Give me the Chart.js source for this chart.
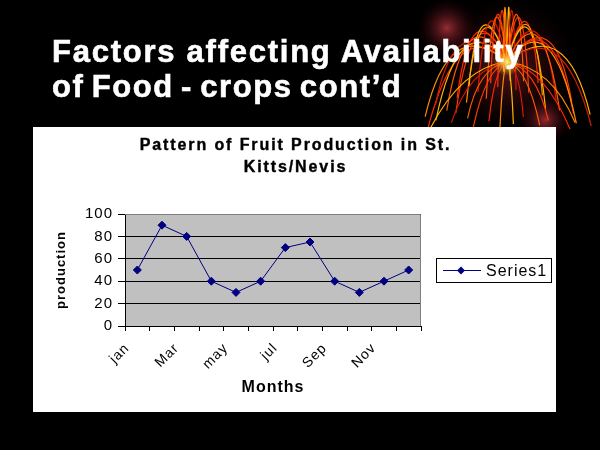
<!DOCTYPE html>
<html>
<head>
<meta charset="utf-8">
<script src="https://cdn.jsdelivr.net/npm/chart.js@4.4.1/dist/chart.umd.min.js"></script>
<style>
  html, body { margin: 0; padding: 0; background: #000; }
  #slide { position: relative; width: 600px; height: 450px; overflow: hidden; background: #000; }
  #deco { position: absolute; left: 0; top: 0; }
  .headline {
    position: absolute; left: 52px; color: #fff;
    font-family: "Liberation Sans", Arial, sans-serif; font-weight: bold;
    font-size: 31px; line-height: 35px; letter-spacing: 1.6px; white-space: nowrap;
    -webkit-text-stroke: 0.6px #fff;
  }
  #box { position: absolute; left: 33px; top: 127px; width: 523px; height: 285px; background: #fff; }
</style>
</head>
<body>
<div id="slide">
  <canvas id="deco" width="600" height="450"></canvas>
  <div class="headline" style="top:34px; letter-spacing:1.75px">Factors affecting Availability</div>
  <div class="headline" style="top:69px; word-spacing:-3px">of Food - crops cont’d</div>
  <div id="box"><canvas id="fruitChart" width="523" height="285"></canvas></div>
</div>
<script>
// values
const months = ["jan", "feb", "Mar", "apr", "may", "jun", "jul", "aug", "Sep", "Oct", "Nov", "Dec"];
const production = [50, 90, 80, 40, 30, 40, 70, 75, 40, 30, 40, 50];
const seriesName = "Series1";
const yTicks = [0, 20, 40, 60, 80, 100];
const chartTitle = ["Pattern of Fruit Production in St.", "Kitts/Nevis"];

const FONT = "'Liberation Sans', Arial, sans-serif";

// firework in the corner, just decoration
function drawFirework() {
  const ctx = document.getElementById("deco").getContext("2d");
  const cx = 507, cy = 62;
  const glows = [[507, 66, 70, 0.45], [447, 28, 30, 0.75], [545, 120, 26, 0.7]];
  glows.forEach(function (g) {
    const grad = ctx.createRadialGradient(g[0], g[1], 0, g[0], g[1], g[2]);
    grad.addColorStop(0, "rgba(200,60,70," + g[3] + ")");
    grad.addColorStop(1, "rgba(60,0,10,0)");
    ctx.fillStyle = grad;
    ctx.beginPath();
    ctx.arc(g[0], g[1], g[2], 0, Math.PI * 2);
    ctx.fill();
  });
  const colors = ["#ff2a00", "#ff8c00", "#ffb400", "#d81800", "#ff5a00", "#ff3a00"];
  const spread = [0, 0.6, 0.25, 0.85, 0.4, 0.1, 0.7, 0.3, 0.95, 0.5];
  ctx.lineWidth = 1.2;
  // dome strands that go up and droop outward
  for (let i = 0; i < 28; i++) {
    const d = -1 + (i / 27) * 2;
    const ad = Math.abs(d);
    const j = spread[i % spread.length];
    const ex = cx + d * (80 + j * 14);
    const ey = cy + 25 + ad * 45 - j * 20;
    const px = cx + d * (50 + j * 20);
    const py = cy - 125 * (1 - ad * 0.6) + j * 10;
    ctx.strokeStyle = colors[i % colors.length];
    ctx.beginPath();
    ctx.moveTo(cx, cy);
    ctx.quadraticCurveTo(px, py, ex, ey);
    ctx.stroke();
  }
  // strands falling below the centre
  for (let i = 0; i < 12; i++) {
    const d = -1 + (i / 11) * 2;
    const j = spread[(i + 3) % spread.length];
    const ex = cx + d * (60 + j * 20);
    const ey = cy + 55 + j * 14;
    ctx.strokeStyle = colors[(i + 2) % colors.length];
    ctx.beginPath();
    ctx.moveTo(cx, cy);
    ctx.quadraticCurveTo(cx + d * 45, cy + 5, ex, ey);
    ctx.stroke();
  }
  const core = ctx.createRadialGradient(cx, cy, 0, cx, cy, 14);
  core.addColorStop(0, "rgba(255,240,120,1)");
  core.addColorStop(1, "rgba(255,160,0,0)");
  ctx.fillStyle = core;
  ctx.beginPath();
  ctx.arc(cx, cy, 14, 0, Math.PI * 2);
  ctx.fill();
}
drawFirework();

const plotDecor = {
  id: "plotDecor",
  beforeLayout(chart) {
    chart.ctx.letterSpacing = "1px";
  },
  beforeDraw(chart) {
    const a = chart.chartArea, ctx = chart.ctx;
    ctx.letterSpacing = "1px";
    ctx.save();
    ctx.fillStyle = "#c0c0c0";
    ctx.fillRect(a.left, a.top, a.right - a.left, a.bottom - a.top);
    ctx.restore();
  },
  afterDatasetsDraw(chart) {
    const a = chart.chartArea, ctx = chart.ctx;
    ctx.save();
    ctx.strokeStyle = "#808080";
    ctx.lineWidth = 1;
    ctx.beginPath();
    ctx.moveTo(a.left, a.top + 0.5);
    ctx.lineTo(a.right - 0.5, a.top + 0.5);
    ctx.lineTo(a.right - 0.5, a.bottom);
    ctx.stroke();
    ctx.restore();
  },
  afterDraw(chart) {
    const ctx = chart.ctx, ds = chart.data.datasets[0];
    ctx.save();
    // chart title, centred on the whole white box
    ctx.fillStyle = "#000";
    ctx.strokeStyle = "#000";
    ctx.lineWidth = 0.4;
    ctx.font = "bold 16px " + FONT;
    ctx.letterSpacing = "1.9px";
    ctx.textAlign = "center";
    ctx.textBaseline = "middle";
    chartTitle.forEach(function (line, i) {
      ctx.fillText(line, chart.width / 2 + 1, 19 + i * 22);
      ctx.strokeText(line, chart.width / 2 + 1, 19 + i * 22);
    });
    // legend box the way the spreadsheet draws it
    const x = 403, y = 131, w = 115, h = 24;
    ctx.lineWidth = 1;
    ctx.strokeRect(x + 0.5, y + 0.5, w, h);
    const my = y + h / 2 + 0.5;
    ctx.strokeStyle = ds.borderColor;
    ctx.beginPath();
    ctx.moveTo(x + 7, my);
    ctx.lineTo(x + 45, my);
    ctx.stroke();
    ctx.fillStyle = ds.pointBackgroundColor;
    ctx.beginPath();
    ctx.moveTo(x + 25, my - 4);
    ctx.lineTo(x + 29, my);
    ctx.lineTo(x + 25, my + 4);
    ctx.lineTo(x + 21, my);
    ctx.closePath();
    ctx.fill();
    ctx.fillStyle = "#000";
    ctx.font = "16px " + FONT;
    ctx.letterSpacing = "1px";
    ctx.textAlign = "left";
    ctx.fillText(ds.label, x + 50, my + 1);
    ctx.restore();
  }
};

new Chart(document.getElementById("fruitChart"), {
  type: "line",
  data: {
    labels: months,
    datasets: [{
      label: seriesName,
      data: production,
      borderColor: "#000080",
      backgroundColor: "#000080",
      pointBackgroundColor: "#000080",
      pointBorderColor: "#000080",
      borderWidth: 1,
      pointStyle: "rectRot",
      pointRadius: 4,
      tension: 0
    }]
  },
  options: {
    responsive: false,
    animation: false,
    layout: { padding: { top: 87, left: 0, right: 135, bottom: 0 } },
    plugins: {
      legend: { display: false },
      tooltip: { enabled: false },
      title: { display: false }
    },
    scales: {
      x: {
        offset: true,
        afterFit: function (scale) { scale.height = 86; },
        grid: { drawOnChartArea: false, drawTicks: true, tickLength: 5, tickColor: "#000", offset: true },
        border: { color: "#000" },
        ticks: {
          autoSkip: false, minRotation: 45, maxRotation: 45, color: "#000", padding: 9, labelOffset: -10,
          font: { family: FONT, size: 14 },
          callback: function (v, i) { return i % 2 === 0 ? months[i] : ""; }
        },
        title: {
          display: true, text: "Months", color: "#000",
          font: { family: FONT, size: 16, weight: "bold" },
          padding: { top: 4, bottom: 15 }
        }
      },
      y: {
        min: yTicks[0], max: yTicks[yTicks.length - 1],
        afterFit: function (scale) { scale.width = 92; },
        afterBuildTicks: function (scale) { scale.ticks = yTicks.map(function (v) { return { value: v }; }); },
        grid: { color: "#000", tickColor: "#000", tickLength: 7, drawTicks: true },
        border: { color: "#000" },
        ticks: {
          color: "#000", padding: 5,
          font: { family: FONT, size: 15 }
        },
        title: {
          display: true, text: "production", color: "#000",
          font: { family: FONT, size: 13, weight: "bold" },
          padding: { top: 21, bottom: 0 }
        }
      }
    }
  },
  plugins: [plotDecor]
});
</script>
</body>
</html>
